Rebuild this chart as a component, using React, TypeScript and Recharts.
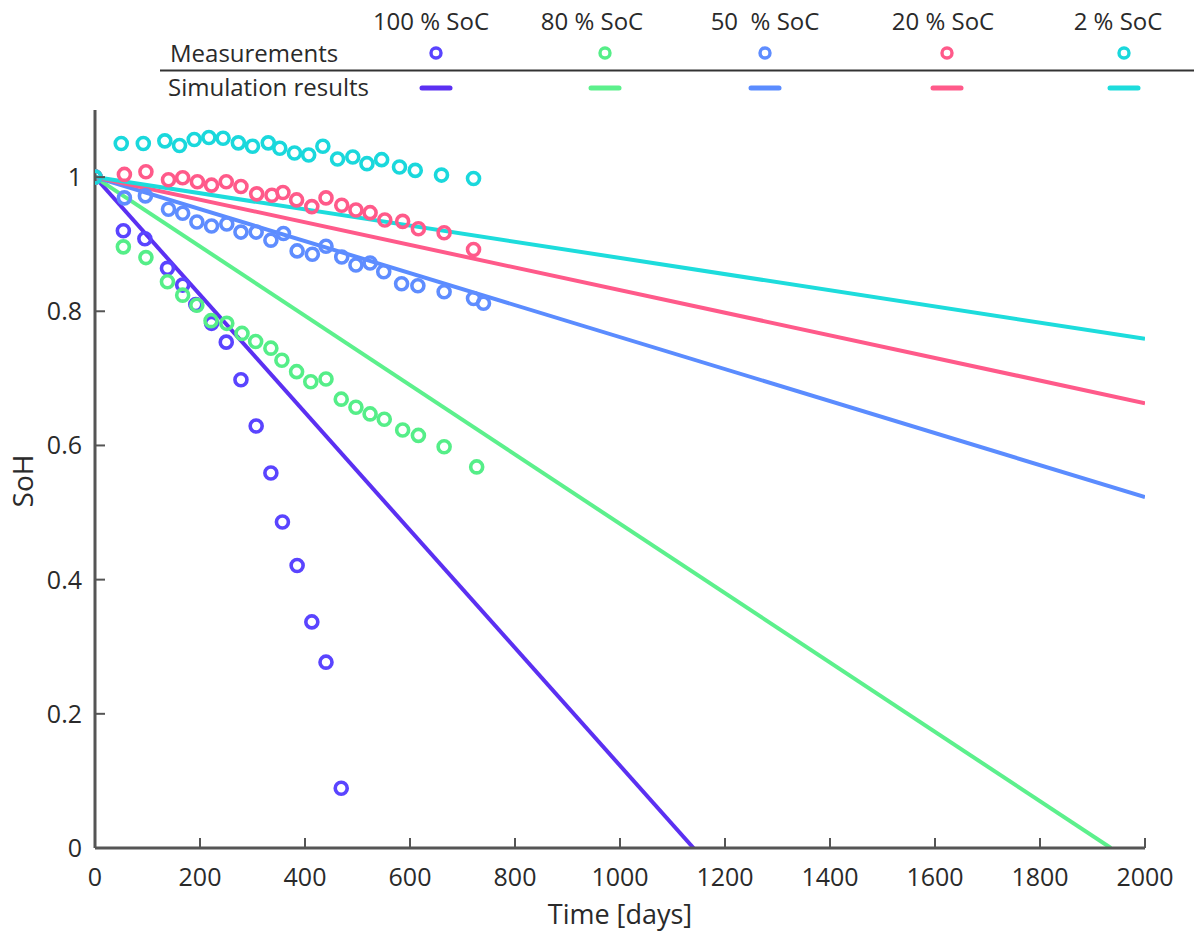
import React from 'react';
import { ComposedChart, Scatter, Line, XAxis, YAxis } from 'recharts';

// ---------- data ----------
const soc100Days = [0, 54, 95, 138, 167, 192, 222, 250, 278, 307, 335, 357, 385, 413, 440, 469];
const soc100Soh = [1.0, 0.92, 0.908, 0.864, 0.839, 0.81, 0.782, 0.754, 0.698, 0.629, 0.559, 0.486, 0.421, 0.337, 0.277, 0.089];

const soc80Days = [0, 54, 97, 138, 167, 194, 221, 251, 280, 306, 335, 356, 384, 411, 440, 469, 497, 524, 551, 586, 616, 665, 727];
const soc80Soh = [1.0, 0.896, 0.88, 0.844, 0.824, 0.809, 0.786, 0.782, 0.767, 0.755, 0.745, 0.727, 0.71, 0.695, 0.699, 0.669, 0.657, 0.647, 0.639, 0.623, 0.615, 0.598, 0.568];

const soc50Days = [0, 56, 96, 140, 167, 194, 222, 251, 278, 307, 335, 359, 385, 414, 440, 470, 497, 524, 550, 584, 615, 665, 721, 740];
const soc50Soh = [1.0, 0.969, 0.972, 0.952, 0.946, 0.933, 0.927, 0.93, 0.918, 0.918, 0.906, 0.916, 0.89, 0.885, 0.897, 0.881, 0.869, 0.872, 0.859, 0.841, 0.838, 0.829, 0.819, 0.812];

const soc20Days = [0, 56, 97, 140, 167, 195, 222, 250, 278, 308, 337, 358, 384, 413, 440, 470, 497, 524, 552, 586, 616, 665, 721];
const soc20Soh = [1.0, 1.004, 1.008, 0.996, 0.999, 0.993, 0.988, 0.993, 0.986, 0.975, 0.973, 0.977, 0.966, 0.956, 0.969, 0.958, 0.951, 0.947, 0.936, 0.934, 0.923, 0.917, 0.892];

const soc2Days = [0, 50, 92, 133, 161, 189, 217, 244, 273, 300, 330, 352, 380, 407, 434, 462, 491, 518, 546, 580, 610, 660, 721];
const soc2Soh = [1.0, 1.05, 1.05, 1.054, 1.047, 1.056, 1.059, 1.058, 1.051, 1.046, 1.051, 1.043, 1.036, 1.033, 1.046, 1.027, 1.03, 1.02, 1.026, 1.015, 1.01, 1.003, 0.998];

// simulation result lines (start, end)
const sim100Days = [0, 1140];
const sim100Soh = [1.0, 0.0];
const sim80Days = [0, 1935];
const sim80Soh = [1.0, 0.0];
const sim50Days = [0, 2000];
const sim50Soh = [1.0, 0.523];
const sim20Days = [0, 2000];
const sim20Soh = [1.0, 0.663];
const sim2Days = [0, 2000];
const sim2Soh = [1.0, 0.759];

const xTicks = [0, 200, 400, 600, 800, 1000, 1200, 1400, 1600, 1800, 2000];
const yTicks = [0, 0.2, 0.4, 0.6, 0.8, 1];
const seriesLabels = ['100 % SoC', '80 % SoC', '50  % SoC', '20 % SoC', '2 % SoC'];

const zip = (xs: number[], ys: number[]) => xs.map((x, i) => ({ x, y: ys[i] }));

const series = [
  { key: 's100', pts: zip(soc100Days, soc100Soh), sim: zip(sim100Days, sim100Soh), mc: '#5a44ff', lc: '#5b30f2' },
  { key: 's80', pts: zip(soc80Days, soc80Soh), sim: zip(sim80Days, sim80Soh), mc: '#55ee88', lc: '#5cf08c' },
  { key: 's50', pts: zip(soc50Days, soc50Soh), sim: zip(sim50Days, sim50Soh), mc: '#5f8dff', lc: '#5b8cff' },
  { key: 's20', pts: zip(soc20Days, soc20Soh), sim: zip(sim20Days, sim20Soh), mc: '#ff5a8a', lc: '#ff5a8a' },
  { key: 's2', pts: zip(soc2Days, soc2Soh), sim: zip(sim2Days, sim2Soh), mc: '#1ad8dc', lc: '#1ddcdc' },
];

const FONT = '"Open Sans", "Noto Sans", sans-serif';
const TEXT = '#2a2a2a';
const AXIS = '#555555';

const XM = 38;
const YM = 13;

const XTick = (props: any) => {
  const { x, y, payload } = props;
  return (
    <g>
      <line x1={x} y1={y - XM} x2={x} y2={y - XM - 10} stroke={AXIS} strokeWidth={2} />
      <text x={x} y={y} textAnchor="middle" fontFamily={FONT} fontSize={25} fill={TEXT}>
        {payload.value}
      </text>
    </g>
  );
};

const YTick = (props: any) => {
  const { x, y, payload } = props;
  return (
    <g>
      <line x1={x + YM} y1={y} x2={x + YM + 10} y2={y} stroke={AXIS} strokeWidth={2} />
      <text x={x} y={y + 9} textAnchor="end" fontFamily={FONT} fontSize={25} fill={TEXT}>
        {payload.value}
      </text>
    </g>
  );
};

const ring = (color: string) => (props: any) => (
  <circle cx={props.cx} cy={props.cy} r={6} fill="none" stroke={color} strokeWidth={3.6} />
);

const legendMarkerX = [436, 605, 765, 947, 1124];
const legendLabelX = [431, 592, 765, 943, 1118];

export default function App() {
  return (
    <div style={{ position: 'absolute', left: 0, top: 0, width: 1194, height: 933, background: '#fff' }}>
      <ComposedChart
        width={1194}
        height={933}
        margin={{ top: 110, right: 49, bottom: 0, left: 0 }}
      >
        <XAxis
          type="number"
          dataKey="x"
          domain={[0, 2000]}
          ticks={xTicks}
          interval={0}
          height={85}
          tickSize={0}
          tickMargin={XM}
          tick={<XTick />}
          axisLine={{ stroke: AXIS, strokeWidth: 3 }}
          allowDataOverflow
          label={(p: any) => (
            <text x={620} y={924} textAnchor="middle" fontFamily={FONT} fontSize={27} fill={TEXT}>
              Time [days]
            </text>
          )}
        />
        <YAxis
          type="number"
          dataKey="y"
          domain={[0, 1.1]}
          ticks={yTicks}
          interval={0}
          width={95}
          tickSize={0}
          tickMargin={YM}
          tick={<YTick />}
          axisLine={{ stroke: AXIS, strokeWidth: 3 }}
          allowDataOverflow
          label={(p: any) => (
            <text x={33} y={481} transform="rotate(-90 33 481)" textAnchor="middle" fontFamily={FONT} fontSize={28} fill={TEXT}>
              SoH
            </text>
          )}
        />
        {series.map((s) => (
          <Scatter
            key={s.key + 'm'}
            data={s.pts}
            dataKey="y"
            shape={ring(s.mc)}
            isAnimationActive={false}
          />
        ))}
        {series.map((s) => (
          <Line
            key={s.key + 'l'}
            data={s.sim}
            dataKey="y"
            type="linear"
            stroke={s.lc}
            strokeWidth={4}
            dot={false}
            activeDot={false}
            isAnimationActive={false}
          />
        ))}
      </ComposedChart>
      <svg
        width={1194}
        height={105}
        style={{ position: 'absolute', left: 0, top: 0, pointerEvents: 'none' }}
      >
        {seriesLabels.map((l, i) => (
          <text key={l} x={legendLabelX[i]} y={30} textAnchor="middle" fontFamily={FONT} fontSize={24} fill={TEXT} style={{ whiteSpace: 'pre' }} xmlSpace="preserve">
            {l}
          </text>
        ))}
        <text x={170} y={62} fontFamily={FONT} fontSize={24} fill={TEXT}>Measurements</text>
        <line x1={160} y1={70.5} x2={1194} y2={70.5} stroke="#333" strokeWidth={1.8} />
        <text x={168} y={96} fontFamily={FONT} fontSize={24} fill={TEXT}>Simulation results</text>
        {series.map((s, i) => (
          <circle key={s.key + 'lm'} cx={legendMarkerX[i]} cy={53} r={5} fill="none" stroke={s.mc} strokeWidth={3.4} />
        ))}
        {series.map((s, i) => (
          <line key={s.key + 'll'} x1={legendMarkerX[i] - 14} y1={88} x2={legendMarkerX[i] + 14} y2={88} stroke={s.lc} strokeWidth={5} strokeLinecap="round" />
        ))}
      </svg>
    </div>
  );
}
